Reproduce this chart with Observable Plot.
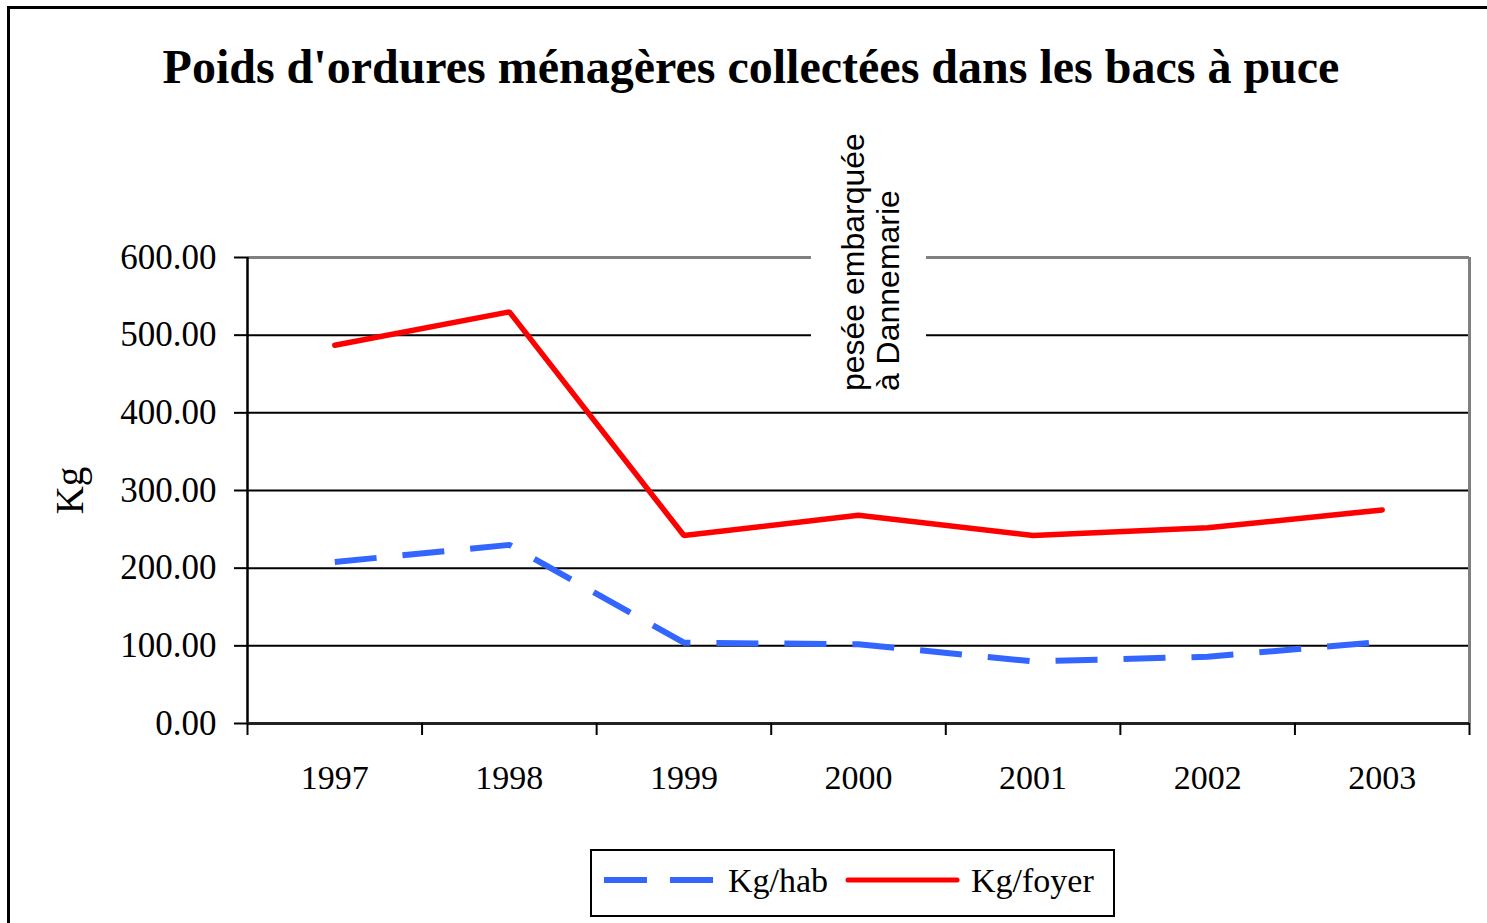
<!DOCTYPE html>
<html>
<head>
<meta charset="utf-8">
<script src="https://cdn.jsdelivr.net/npm/d3@7"></script>
<script src="https://cdn.jsdelivr.net/npm/@observablehq/plot@0.6"></script>
<style>
  body { margin: 0; background: #fff; }
  #page { position: relative; width: 1487px; height: 923px; overflow: hidden; background: #fff; }
  #border { position: absolute; left: 7px; top: 6px; width: 1500px; height: 1000px;
            border-left: 3px solid #000; border-top: 3px solid #000; box-sizing: border-box; }
  #title { position: absolute; left: 0; top: 43px; width: 1502px; text-align: center;
           font: bold 48px "Liberation Serif", "Times New Roman", serif; line-height: 48px; color: #000; white-space: nowrap; }
  #chart { position: absolute; left: 0; top: 110px; }
  #legend { position: absolute; left: 590px; top: 849px; width: 525px; height: 68px;
            border: 2px solid #000; box-sizing: border-box; background: #fff; }
  .lg { position: absolute; font: 34px "Liberation Serif", "Times New Roman", serif; line-height: 34px; color: #000; white-space: nowrap; }
  .sw { position: absolute; }
</style>
</head>
<body>
<div id="page">
  <div id="border"></div>
  <div id="title"></div>
  <div id="chart"></div>
  <div id="legend"></div>
</div>
<script>
// ---- data ----
const years = [1997, 1998, 1999, 2000, 2001, 2002, 2003];
const kgHab = [208, 230, 104, 102, 80, 86, 105];
const kgFoyer = [487, 530, 242, 268, 242, 252, 275];
const seriesNames = ["Kg/hab", "Kg/foyer"];
const seriesColors = ["#3366ff", "#ff0000"];
const yTicks = [0, 100, 200, 300, 400, 500, 600];
const titleText = "Poids d'ordures ménagères collectées dans les bacs à puce";
const yLabel = "Kg";
const annotationText = "pesée embarquée\nà Dannemarie";
const annotationYear = 2000;
const annotationBase = 428;   // value where the rotated text starts
const maskFrom = 418;         // value where the white mask starts

// ---- derived tables ----
const habData = years.map((y, i) => ({ year: y, value: kgHab[i], series: seriesNames[0] }));
const foyerData = years.map((y, i) => ({ year: y, value: kgFoyer[i], series: seriesNames[1] }));
const xDomain = [years[0] - 0.5, years[years.length - 1] + 0.5];
const bounds = d3.range(xDomain[0], xDomain[1] + 0.01, 1);

document.getElementById("title").textContent = titleText;

const serif = "'Liberation Serif', 'Times New Roman', serif";
const sans = "'Liberation Sans', Arial, sans-serif";

const chart = Plot.plot({
  width: 1487,
  height: 700,
  marginLeft: 247,
  marginRight: 18,
  marginTop: 147,
  marginBottom: 87,
  style: { fontFamily: serif, background: "transparent", overflow: "visible" },
  x: { type: "linear", domain: xDomain },
  y: { domain: [0, 600] },
  marks: [
    Plot.ruleY(yTicks.slice(1, -1), { stroke: "#000", strokeWidth: 2 }),
    Plot.ruleY([yTicks[yTicks.length - 1]], { stroke: "#808080", strokeWidth: 3 }),
    Plot.ruleX([xDomain[1]], { stroke: "#808080", strokeWidth: 3 }),
    Plot.ruleX([annotationYear], { y1: maskFrom, y2: 606, stroke: "#fff", strokeWidth: 115, dx: 10 }),
    Plot.text([annotationText], {
      x: () => annotationYear, y: () => annotationBase, text: d => d,
      rotate: -90, textAnchor: "start", lineAnchor: "middle", lineHeight: 1.1,
      fontSize: 32, fontFamily: sans, fill: "#000", dx: 12
    }),
    Plot.ruleX([xDomain[0]], { stroke: "#000", strokeWidth: 2.5 }),
    Plot.ruleY([0], { stroke: "#222", strokeWidth: 3 }),
    Plot.line(habData, {
      x: "year", y: "value", stroke: seriesColors[0], strokeWidth: 6,
      strokeDasharray: "42,26", strokeLinecap: "butt", strokeLinejoin: "miter"
    }),
    Plot.line(foyerData, {
      x: "year", y: "value", stroke: seriesColors[1], strokeWidth: 5.5,
      strokeLinecap: "round", strokeLinejoin: "miter"
    }),
    Plot.axisY({
      ticks: yTicks, tickFormat: d => d.toFixed(2), tickSize: 13, tickPadding: 18,
      fontSize: 35, fontFamily: serif, stroke: "#000", strokeWidth: 2, color: "#000",
      label: yLabel, labelAnchor: "center", labelArrow: "none", labelOffset: 192
    }),
    Plot.axisX({
      ticks: bounds, tickFormat: () => "", tickSize: 12, stroke: "#000", strokeWidth: 2, label: null
    }),
    Plot.axisX({
      ticks: years, tickFormat: d => String(d), tickSize: 0, tickPadding: 41,
      fontSize: 34, fontFamily: serif, color: "#000", label: null
    })
  ]
});
chart.querySelectorAll("text").forEach(el => {
  if (el.textContent.trim() === yLabel) el.style.fontSize = "39px";
});
document.getElementById("chart").appendChild(chart);

// ---- legend ----
const legend = document.getElementById("legend");
const legendItems = [
  { name: seriesNames[0], color: seriesColors[0], dash: "43,23", cap: "butt", width: 6, swLeft: 12, swWidth: 112, textLeft: 136 },
  { name: seriesNames[1], color: seriesColors[1], dash: null, cap: "round", width: 5, swLeft: 253, swWidth: 115, textLeft: 379 }
];
legendItems.forEach(it => {
  const svg = d3.create("svg").attr("class", "sw").attr("width", it.swWidth).attr("height", 14)
    .style("left", it.swLeft + "px").style("top", "22px");
  svg.append("line").attr("x1", it.cap === "round" ? 3 : 0).attr("x2", it.swWidth - (it.cap === "round" ? 3 : 0))
    .attr("y1", 7).attr("y2", 7).attr("stroke", it.color).attr("stroke-width", it.width)
    .attr("stroke-linecap", it.cap).attr("stroke-dasharray", it.dash);
  legend.appendChild(svg.node());
  const t = document.createElement("div");
  t.className = "lg";
  t.style.left = it.textLeft + "px";
  t.style.top = "13px";
  t.textContent = it.name;
  legend.appendChild(t);
});
</script>
</body>
</html>
